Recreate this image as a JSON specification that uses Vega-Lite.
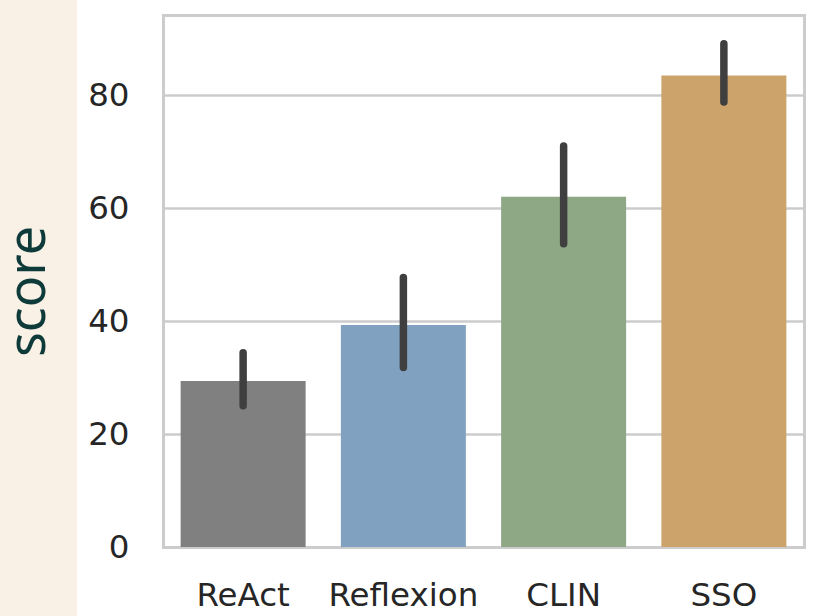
{
  "$schema": "https://vega.github.io/schema/vega-lite/v6.json",
  "autosize": {"type": "none"},
  "padding": {"left": 163, "top": 15, "right": 23, "bottom": 69},
  "width": 641,
  "height": 532,
  "background": "#f9f0e6",
  "data": {
    "values": [
      {"method": "ReAct", "score": 29.4, "lo": 25.0, "hi": 34.4},
      {"method": "Reflexion", "score": 39.3, "lo": 31.8, "hi": 47.7},
      {"method": "CLIN", "score": 62.0, "lo": 53.7, "hi": 71.0},
      {"method": "SSO", "score": 83.5, "lo": 78.8, "hi": 89.1}
    ]
  },
  "config": {
    "view": {"fill": "white", "stroke": "white", "strokeWidth": 172},
    "axis": {
      "labelFont": "DejaVu Sans",
      "labelFontSize": 32.5,
      "labelColor": "#262626",
      "domainColor": "#cccccc",
      "domainWidth": 3,
      "domainCap": "square",
      "ticks": false,
      "tickSize": 0
    }
  },
  "layer": [
    {
      "mark": {"type": "bar", "orient": "vertical"},
      "encoding": {
        "x": {
          "field": "method",
          "type": "nominal",
          "sort": null,
          "scale": {"paddingInner": 0.22, "paddingOuter": 0.11},
          "axis": {"title": null, "labelAngle": 0, "labelPadding": 32, "grid": false}
        },
        "y": {
          "field": "score",
          "type": "quantitative",
          "scale": {"domain": [0, 94.2], "nice": false, "zero": true},
          "axis": {
            "values": [0, 20, 40, 60, 80],
            "grid": true,
            "gridColor": "#cccccc",
            "gridWidth": 2.5,
            "labelPadding": 34,
            "title": "score",
            "titleFont": "Noto Sans",
            "titleFontSize": 52,
            "titleFontWeight": "normal",
            "titleColor": "#0e3b3a",
            "titleAngle": 270,
            "titleBaseline": "middle",
            "titleAlign": "center",
            "titleX": -135,
            "titleY": 276
          }
        },
        "color": {
          "field": "method",
          "type": "nominal",
          "scale": {
            "domain": ["ReAct", "Reflexion", "CLIN", "SSO"],
            "range": ["#808080", "#80a2c0", "#8ea784", "#cca36b"]
          },
          "legend": null
        }
      }
    },
    {
      "mark": {"type": "rule", "strokeWidth": 7.5, "strokeCap": "round", "color": "#3f3f3f"},
      "encoding": {
        "x": {
          "field": "method",
          "type": "nominal",
          "sort": null,
          "axis": {"orient": "top", "title": null, "labels": false, "grid": false}
        },
        "y": {
          "field": "lo",
          "type": "quantitative",
          "axis": {"orient": "right", "title": null, "labels": false, "grid": false}
        },
        "y2": {"field": "hi"}
      }
    }
  ],
  "resolve": {"axis": {"x": "independent", "y": "independent"}}
}
